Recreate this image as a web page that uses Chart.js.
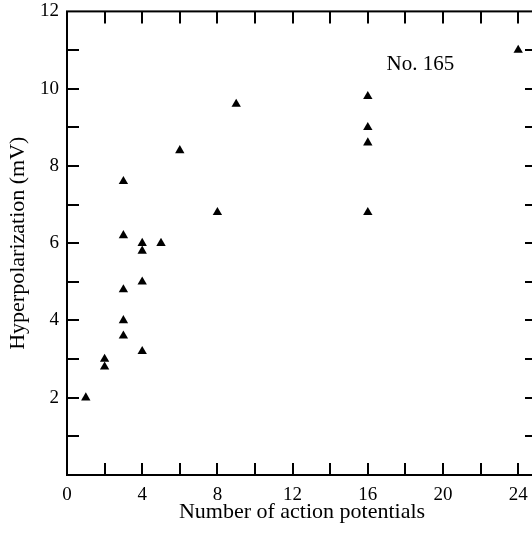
<!DOCTYPE html>
<html>
<head>
<meta charset="utf-8">
<script src="https://cdn.jsdelivr.net/npm/chart.js@4/dist/chart.umd.min.js"></script>
<style>
	html, body { margin: 0; padding: 0; background: #fff; overflow: hidden; }
	canvas { display: block; }
</style>
</head>
<body>
<canvas id="chart" width="545" height="534"></canvas>
<script>
// Hyperpolarization vs number of action potentials (No. 165)

const actionPotentials = [1, 2, 2, 3, 3, 3, 3, 3, 4, 4, 4, 4, 5, 6, 8, 9, 16, 16, 16, 16, 24];
const hyperpolarization = [2.0, 3.0, 2.8, 7.6, 6.2, 4.8, 4.0, 3.6, 6.0, 5.8, 5.0, 3.2, 6.0, 8.4, 6.8, 9.6, 9.8, 9.0, 8.6, 6.8, 11.0];

const xTicks = [0, 2, 4, 6, 8, 10, 12, 14, 16, 18, 20, 22, 24];
const xLabels = [0, 4, 8, 12, 16, 20, 24];
const yTicks = [0, 1, 2, 3, 4, 5, 6, 7, 8, 9, 10, 11, 12];
const yLabels = [2, 4, 6, 8, 10, 12];

const SERIF = '"Liberation Serif", "Times New Roman", serif';
const TICK_LEN = 12;

// frame + inward tick marks on all four sides, plus the "No. 165" note
const framePlugin = {
	id: 'frame',
	afterDraw(chart) {
		const ctx = chart.ctx;
		const a = chart.chartArea;
		const xs = chart.scales.x;
		const ys = chart.scales.y;
		ctx.save();
		ctx.strokeStyle = '#000';
		ctx.lineWidth = 2;
		ctx.strokeRect(a.left, a.top, a.right - a.left, a.bottom - a.top);
		ctx.beginPath();
		xTicks.forEach(v => {
			if (v === 0) return;
			const px = Math.round(xs.getPixelForValue(v));
			ctx.moveTo(px, a.bottom);
			ctx.lineTo(px, a.bottom - TICK_LEN);
			ctx.moveTo(px, a.top);
			ctx.lineTo(px, a.top + TICK_LEN);
		});
		yTicks.forEach(v => {
			if (v === 0 || v === 12) return;
			const py = Math.round(ys.getPixelForValue(v));
			ctx.moveTo(a.left, py);
			ctx.lineTo(a.left + TICK_LEN, py);
			ctx.moveTo(a.right, py);
			ctx.lineTo(a.right - TICK_LEN, py);
		});
		ctx.stroke();

		ctx.fillStyle = '#000';
		ctx.font = '21px ' + SERIF;
		ctx.textAlign = 'center';
		ctx.textBaseline = 'middle';
		ctx.fillText('No. 165', xs.getPixelForValue(18.8), ys.getPixelForValue(10.63));
		ctx.restore();
	}
};

new Chart(document.getElementById('chart'), {
	type: 'scatter',
	data: {
		datasets: [{
			data: actionPotentials.map((x, i) => ({ x: x, y: hyperpolarization[i] })),
			pointStyle: 'triangle',
			pointRadius: 5.4,
			backgroundColor: '#000',
			borderColor: '#000',
			borderWidth: 0
		}]
	},
	options: {
		responsive: false,
		animation: false,
		layout: { padding: { top: 3, right: 8, left: 0, bottom: 0 } },
		plugins: {
			legend: { display: false },
			tooltip: { enabled: false }
		},
		scales: {
			x: {
				type: 'linear',
				min: 0,
				max: 25,
				afterBuildTicks: s => { s.ticks = xTicks.map(v => ({ value: v })); },
				afterFit: s => { s.height = 59; },
				grid: { display: false },
				border: { display: false },
				ticks: {
					autoSkip: false,
					maxRotation: 0,
					padding: 1,
					color: '#000',
					font: { family: SERIF, size: 19 },
					callback: v => xLabels.includes(v) ? String(v) : ''
				},
				title: {
					display: true,
					text: 'Number of action potentials',
					color: '#000',
					font: { family: SERIF, size: 22 },
					padding: { top: 0, bottom: 9 }
				}
			},
			y: {
				type: 'linear',
				min: 0,
				max: 12,
				afterBuildTicks: s => { s.ticks = yTicks.map(v => ({ value: v })); },
				afterFit: s => { s.width = 67; },
				grid: { display: false },
				border: { display: false },
				ticks: {
					autoSkip: false,
					padding: 0,
					color: '#000',
					font: { family: SERIF, size: 19 },
					callback: v => yLabels.includes(v) ? String(v) : ''
				},
				title: {
					display: true,
					text: 'Hyperpolarization (mV)',
					color: '#000',
					font: { family: SERIF, size: 22 },
					padding: { top: 5, bottom: 0 }
				}
			}
		}
	},
	plugins: [framePlugin]
});
</script>
</body>
</html>
